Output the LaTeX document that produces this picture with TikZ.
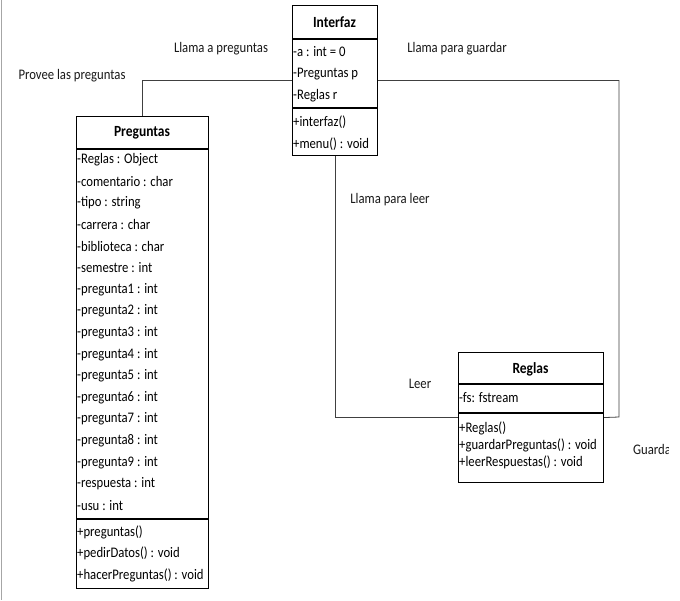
\documentclass[tikz,border=0pt]{standalone}
\usepackage{fontspec}
\setmainfont{Carlito}
\newcommand{\vs}[1]{\scalebox{1}[1.15]{#1}}
\begin{document}
\begin{tikzpicture}[x=1pt,y=-1pt,
  classbox/.style={draw=black, line width=1.1pt, fill=none, inner sep=0pt, anchor=north west},
  sepline/.style={draw=black, line width=1.1pt},
  conn/.style={draw=black!75, line width=0.8pt},
  member/.style={anchor=west, inner sep=0pt, font=\fontsize{12.7}{15}\selectfont, text=black},
  ctitle/.style={inner sep=0pt, font=\bfseries\fontsize{13.5}{15}\selectfont, text=black},
  lbl/.style={inner sep=0pt, font=\fontsize{12.7}{15}\selectfont, text=black!90}]
\useasboundingbox (0,0) rectangle (680,600);
\fill[white] (0,0) rectangle (680,600);
\draw[black!35, line width=1pt] (1,0) -- (1,600);

% Interfaz
\node[classbox, minimum width=85pt, minimum height=150pt] (interfaz) at (292,5) {};
\draw[sepline] (292,39) -- (377,39);
\draw[sepline] (292,108) -- (377,108);
\node[ctitle] (it) at (334.5,22) {\vs{Interfaz}};
\node[member] (ia1) at (293,52) {\vs{-a : int = 0}};
\node[member] (ia2) at (293,74) {\vs{-Preguntas p}};
\node[member] (ia3) at (293,96) {\vs{-Reglas r}};
\node[member] (im1) at (293,122) {\vs{+interfaz()}};
\node[member] (im2) at (293,144) {\vs{+menu() : void}};

% Preguntas
\node[classbox, minimum width=132pt, minimum height=472pt] (preguntas) at (76,116) {};
\draw[sepline] (76,149) -- (208,149);
\draw[sepline] (76,519) -- (208,519);
\node[ctitle] (pt) at (142,133) {\vs{Preguntas}};
\foreach \t [count=\i from 0] in {-Reglas : Object,-comentario : char,-tipo : string,-carrera : char,-biblioteca : char,-semestre : int,-pregunta1 : int,-pregunta2 : int,-pregunta3 : int,-pregunta4 : int,-pregunta5 : int,-pregunta6 : int,-pregunta7 : int,-pregunta8 : int,-pregunta9 : int,-respuesta : int,-usu : int}
  \node[member] (pa\i) at (77,160+21.6*\i) {\vs{\t}};
\node[member] (pm1) at (77,532) {\vs{+preguntas()}};
\node[member] (pm2) at (77,553.5) {\vs{+pedirDatos() : void}};
\node[member] (pm3) at (77,575) {\vs{+hacerPreguntas() : void}};

% Reglas
\node[classbox, minimum width=145pt, minimum height=130pt] (reglas) at (458,352) {};
\draw[sepline] (458,384) -- (603,384);
\draw[sepline] (458,413) -- (603,413);
\node[ctitle] (rt) at (530.5,369) {\vs{Reglas}};
\node[member] (ra1) at (459,398) {\vs{-fs: fstream}};
\node[member] (rm1) at (459,428) {\vs{+Reglas()}};
\node[member] (rm2) at (459,445) {\vs{+guardarPreguntas() : void}};
\node[member] (rm3) at (459,462) {\vs{+leerRespuestas() : void}};

% connectors
\coordinate (rcorner) at (619,417);
\draw[conn] (interfaz.west) -| (preguntas.north);
\draw[conn] (interfaz.east) -| (rcorner) -- (reglas.east);
\draw[conn] (interfaz.south) |- (reglas.west);

% labels
\node[lbl] (l1) at (221,49) {\vs{Llama a preguntas}};
\node[lbl] (l2) at (72,76) {\vs{Provee las preguntas}};
\node[lbl] (l3) at (457,49) {\vs{Llama para guardar}};
\node[lbl] (l4) at (390,200) {\vs{Llama para leer}};
\node[lbl] (l5) at (420,384) {\vs{Leer}};
\begin{scope}
  \clip (600,420) rectangle (668,480);
  \node[lbl, anchor=west] (l6) at (633,449) {\vs{Guardar}};
\end{scope}
\end{tikzpicture}
\end{document}
